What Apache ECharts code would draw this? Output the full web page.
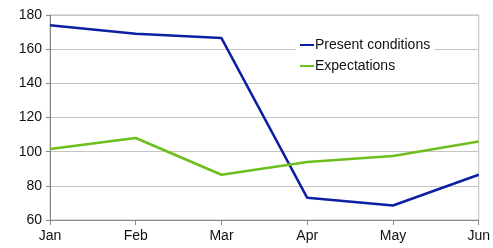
<!DOCTYPE html>
<html>
<head>
<meta charset="utf-8">
<script src="https://cdn.jsdelivr.net/npm/echarts@6/dist/echarts.min.js"></script>
<style>
  html, body { margin: 0; padding: 0; background: #fff; }
  #chart { width: 493px; height: 248px; }
</style>
</head>
<body>
<div id="chart"></div>
<script>
const months = ['Jan', 'Feb', 'Mar', 'Apr', 'May', 'Jun'];
const present = [174, 169, 166.5, 73, 68.5, 86.5];
const expectations = [101.5, 108, 86.5, 94, 97.5, 106];

const chart = echarts.init(document.getElementById('chart'));
chart.setOption({
  animation: false,
  textStyle: { fontFamily: 'Liberation Sans, Arial, sans-serif' },
  grid: { left: 50, right: 13, top: 15, bottom: 28, show: true, borderColor: '#bbb', borderWidth: 1 },
  legend: {
    orient: 'vertical',
    left: 296,
    top: 36,
    backgroundColor: '#fff',
    padding: [2, 4, 2, 4],
    itemGap: 7,
    itemWidth: 14,
    itemHeight: 2,
    icon: 'rect',
    textStyle: { fontSize: 14, color: '#111', padding: [0, 0, 0, -4] },
    data: ['Present conditions', 'Expectations']
  },
  xAxis: {
    type: 'category',
    data: months,
    boundaryGap: false,
    axisLine: { lineStyle: { color: '#888' } },
    axisTick: { show: true, alignWithLabel: true, length: 5, lineStyle: { color: '#888' } },
    axisLabel: { color: '#111', fontSize: 14, margin: 9 },
    splitLine: { show: false }
  },
  yAxis: {
    type: 'value',
    min: 60,
    max: 180,
    interval: 20,
    axisLine: { show: true, lineStyle: { color: '#888' } },
    axisTick: { show: true, length: 4, lineStyle: { color: '#888' } },
    axisLabel: { color: '#111', fontSize: 14, margin: 8 },
    splitLine: { lineStyle: { color: '#c4c4c4' } }
  },
  series: [
    {
      name: 'Present conditions',
      type: 'line',
      data: present,
      symbol: 'none',
      itemStyle: { color: '#0d1fa3' },
      lineStyle: { color: '#0d1fa3', width: 2.5 }
    },
    {
      name: 'Expectations',
      type: 'line',
      data: expectations,
      symbol: 'none',
      itemStyle: { color: '#6cbf1c' },
      lineStyle: { color: '#6cbf1c', width: 2.5 }
    }
  ]
});
</script>
</body>
</html>
